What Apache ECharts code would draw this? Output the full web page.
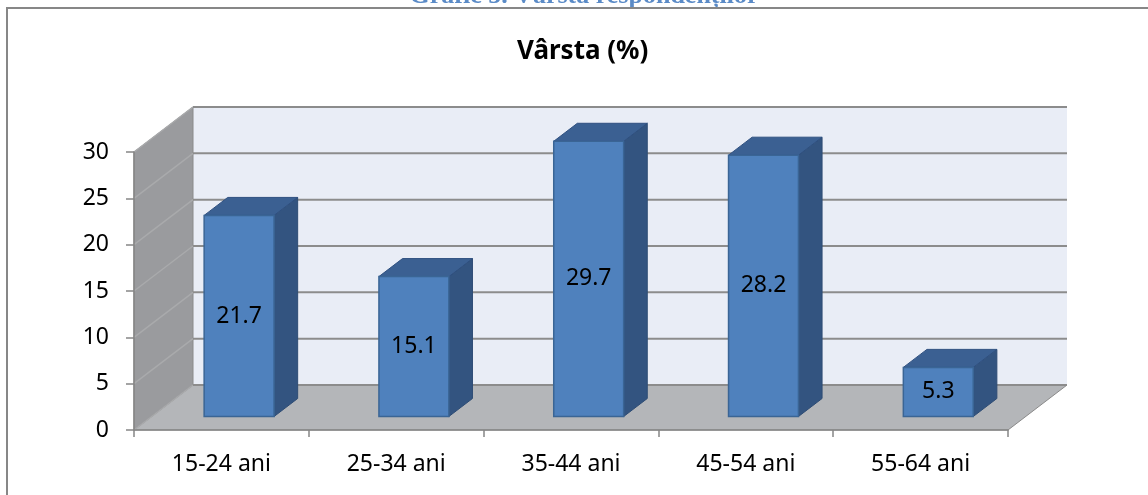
<!DOCTYPE html>
<html>
<head>
<meta charset="utf-8">
<script src="https://cdn.jsdelivr.net/npm/echarts@6/dist/echarts.min.js"></script>
<style>
  html, body { margin: 0; padding: 0; background: #fff; }
  #chart { width: 1148px; height: 495px; }
</style>
</head>
<body>
<div id="chart"></div>
<script>
var categories = ['15-24 ani', '25-34 ani', '35-44 ani', '45-54 ani', '55-64 ani']
var values = [21.7, 15.1, 29.7, 28.2, 5.3]
var yTicks = [0, 5, 10, 15, 20, 25, 30]

// oblique 3d look: offset of the back wall from the front plane
var DEPTH = [59, -45]
var BAR_FRONT = 0.3
var BAR_BACK = 0.7
var FONT = 'Noto Sans'

var chart = echarts.init(document.getElementById('chart'))

function shift(p, f) {
  return [p[0] + DEPTH[0] * f, p[1] + DEPTH[1] * f]
}

function renderWalls(params, api) {
  var cs = params.coordSys
  var x0 = cs.x
  var x1 = cs.x + cs.width
  var yb = api.coord([0, yTicks[0]])[1]
  var yt = api.coord([0, yTicks[yTicks.length - 1]])[1]
  var children = []
  // back wall
  children.push({
    type: 'polygon',
    shape: { points: [shift([x0, yt], 1), shift([x1, yt], 1), shift([x1, yb], 1), shift([x0, yb], 1)] },
    style: { fill: '#e9edf6' }
  })
  // side wall
  children.push({
    type: 'polygon',
    shape: { points: [[x0, yt], shift([x0, yt], 1), shift([x0, yb], 1), [x0, yb]] },
    style: { fill: '#9a9b9e', stroke: '#8a8a8a', lineWidth: 1 }
  })
  // floor
  children.push({
    type: 'polygon',
    shape: { points: [[x0, yb], [x1, yb], shift([x1, yb], 1), shift([x0, yb], 1)] },
    style: { fill: '#b4b6b9', stroke: '#8a8a8a', lineWidth: 1 }
  })
  yTicks.forEach(function(v) {
    var y = api.coord([0, v])[1]
    var a = [x0, y]
    var b = shift(a, 1)
    var c = shift([x1, y], 1)
    children.push({
      type: 'line',
      shape: { x1: a[0], y1: a[1], x2: b[0], y2: b[1] },
      style: { stroke: '#a9aaac', lineWidth: 1.5 }
    })
    children.push({
      type: 'line',
      shape: { x1: b[0], y1: b[1], x2: c[0], y2: c[1] },
      style: { stroke: '#8c8c8c', lineWidth: 2 }
    })
  })
  return { type: 'group', children: children }
}

function renderBar(params, api) {
  var idx = api.value(0)
  var v = api.value(1)
  var top = api.coord([idx, v])
  var base = api.coord([idx, 0])
  var w = api.size([1, 0])[0] * 0.4
  var l = top[0] - w / 2
  var r = top[0] + w / 2
  var ftl = shift([l, top[1]], BAR_FRONT)
  var ftr = shift([r, top[1]], BAR_FRONT)
  var fbr = shift([r, base[1]], BAR_FRONT)
  var fbl = shift([l, base[1]], BAR_FRONT)
  var btl = shift([l, top[1]], BAR_BACK)
  var btr = shift([r, top[1]], BAR_BACK)
  var bbr = shift([r, base[1]], BAR_BACK)
  return {
    type: 'group',
    children: [
      {
        type: 'polygon',
        shape: { points: [ftr, btr, bbr, fbr] },
        style: { fill: '#335480', stroke: '#2e4c74', lineWidth: 1 }
      },
      {
        type: 'polygon',
        shape: { points: [ftl, ftr, btr, btl] },
        style: { fill: '#3b6092', stroke: '#2f5080', lineWidth: 1 }
      },
      {
        type: 'polygon',
        shape: { points: [ftl, ftr, fbr, fbl] },
        style: { fill: '#4f81bd', stroke: '#3a6595', lineWidth: 1.5 }
      },
      {
        type: 'text',
        style: {
          x: (ftl[0] + ftr[0]) / 2,
          y: (ftl[1] + fbl[1]) / 2,
          text: String(v),
          align: 'center',
          verticalAlign: 'middle',
          fill: '#000',
          font: '23px "' + FONT + '"'
        }
      }
    ]
  }
}

var option = {
  backgroundColor: '#fff',
  animation: false,
  title: {
    text: 'Vârsta (%)',
    left: 512,
    top: 34,
    textStyle: { fontFamily: FONT, fontSize: 26, fontWeight: 'bold', color: '#000' }
  },
  graphic: [
    {
      type: 'rect',
      shape: { x: 7, y: 8, width: 1200, height: 600 },
      style: { fill: null, stroke: '#878787', lineWidth: 2 },
      z: 100
    },
    {
      type: 'text',
      x: 584,
      y: 9,
      style: {
        text: 'Grafic 5. Vârsta respondenților',
        align: 'center',
        verticalAlign: 'bottom',
        fill: '#5b8bc7',
        font: 'bold 26px "Liberation Serif"'
      }
    }
  ],
  grid: { left: 134, right: 140, top: 152, bottom: 65 },
  xAxis: {
    type: 'category',
    data: categories,
    boundaryGap: true,
    axisLine: { lineStyle: { color: '#868686', width: 1.5 } },
    axisTick: { show: true, length: 7, lineStyle: { color: '#868686', width: 1.5 } },
    axisLabel: { color: '#000', fontFamily: FONT, fontSize: 23, margin: 23 },
    z: 5
  },
  yAxis: {
    type: 'value',
    min: 0,
    max: 30,
    interval: 5,
    axisLine: { show: true, lineStyle: { color: '#868686', width: 1.5 } },
    axisTick: { show: true, length: 8, lineStyle: { color: '#868686', width: 1.5 } },
    axisLabel: { color: '#000', fontFamily: FONT, fontSize: 23, margin: 25, padding: [5, 0, 0, 0] },
    splitLine: { show: false },
    z: 5
  },
  series: [
    {
      type: 'custom',
      z: -1,
      silent: true,
      renderItem: renderWalls,
      data: [[0, 0]],
      encode: { x: 0, y: 1 }
    },
    {
      type: 'custom',
      z: 10,
      renderItem: renderBar,
      data: values.map(function(v, i) { return [i, v] }),
      encode: { x: 0, y: 1 }
    }
  ]
}

chart.setOption(option)
window.addEventListener('resize', function() { chart.resize() })
</script>
</body>
</html>
